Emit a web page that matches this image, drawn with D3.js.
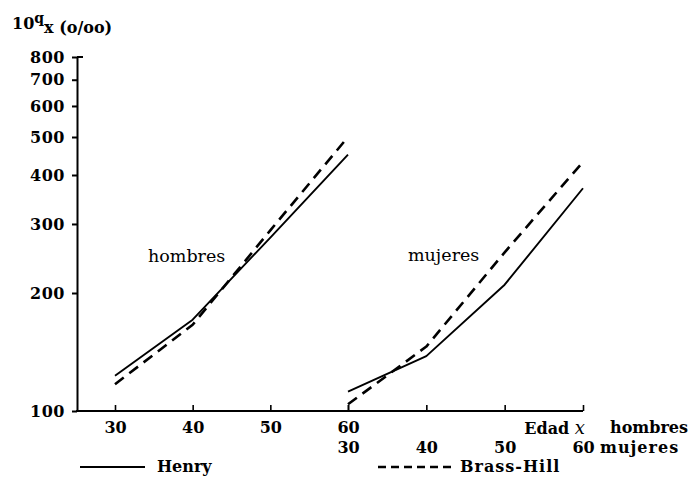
<!DOCTYPE html>
<html>
<head>
<meta charset="utf-8">
<script src="https://cdn.jsdelivr.net/npm/d3@7"></script>
<style>
  html, body { margin: 0; padding: 0; background: #fff; }
  svg { display: block; }
  text { font-family: "DejaVu Serif", serif; fill: #000; }
</style>
</head>
<body>
<svg id="chart" width="694" height="479"></svg>
<script>
// Ages (x) and 10qx mortality probabilities per thousand
const ages = [30, 40, 50, 60];
const hombresHenry = [123, 171, 277, 451];
const hombresBrassHill = [117, 166, 289, 500];
const mujeresHenry = [112, 138, 210, 370];
const mujeresBrassHill = [104, 146, 254, 432];
const yTicks = [100, 200, 300, 400, 500, 600, 700, 800];
const ageTicks = [30, 40, 50, 60];

const svg = d3.select("#chart");

// Two age axes share the baseline: men to the left, women to the right
const xH = d3.scaleLinear().domain([30, 60]).range([115, 348]);
const xM = d3.scaleLinear().domain([30, 60]).range([348, 583]);
const y = d3.scaleLog().domain([100, 800]).range([411, 57]);

// Y axis (log scale)
const yAxis = svg.append("g")
  .attr("transform", "translate(77,0)")
  .call(d3.axisLeft(y).tickValues(yTicks).tickSize(5).tickSizeOuter(0)
    .tickPadding(7).tickFormat(d3.format("d")));
yAxis.select(".domain").attr("stroke-width", 2);
yAxis.selectAll(".tick line").attr("stroke-width", 2);
yAxis.selectAll(".tick text")
  .attr("font-size", 16).attr("font-weight", "bold")
  .attr("letter-spacing", 0.5)
  .attr("font-family", "DejaVu Serif, serif");
// short cap at the top of the axis
svg.append("line")
  .attr("x1", 77).attr("x2", 83).attr("y1", y(800)).attr("y2", y(800))
  .attr("stroke", "#000").attr("stroke-width", 2);

// Baseline across both age ranges
svg.append("line")
  .attr("x1", 76).attr("x2", xM(60))
  .attr("y1", y(100)).attr("y2", y(100))
  .attr("stroke", "#000").attr("stroke-width", 2);

function ageAxis(scale, pad) {
  const g = svg.append("g")
    .attr("transform", `translate(0,${y(100)})`)
    .call(d3.axisBottom(scale).tickValues(ageTicks).tickSize(-6)
      .tickSizeOuter(0).tickPadding(pad).tickFormat(d3.format("d")));
  g.select(".domain").remove();
  g.selectAll(".tick line").attr("stroke-width", 1.6);
  g.selectAll(".tick text")
    .attr("font-size", 16).attr("font-weight", "bold")
    .attr("font-family", "DejaVu Serif, serif");
  return g;
}
ageAxis(xH, 10.5);
ageAxis(xM, 30.5);

// Series lines
const lineH = d3.line().x((d, i) => xH(ages[i])).y(d => y(d));
const lineM = d3.line().x((d, i) => xM(ages[i])).y(d => y(d));

const series = [
  { gen: lineH, values: hombresHenry, dashed: false },
  { gen: lineH, values: hombresBrassHill, dashed: true },
  { gen: lineM, values: mujeresHenry, dashed: false },
  { gen: lineM, values: mujeresBrassHill, dashed: true }
];
series.forEach(s => {
  svg.append("path")
    .attr("d", s.gen(s.values))
    .attr("fill", "none")
    .attr("stroke", "#000")
    .attr("stroke-width", s.dashed ? 2.6 : 1.9)
    .attr("stroke-dasharray", s.dashed ? "11,7" : null)
    .attr("stroke-linejoin", "round");
});

// Group labels inside the plot
svg.append("text").attr("x", 148).attr("y", 262)
  .attr("font-size", 17.5).text("hombres");
svg.append("text").attr("x", 408).attr("y", 261)
  .attr("font-size", 17.5).text("mujeres");

// Y axis title: 10qx (o/oo)
const title = svg.append("text").attr("x", 12).attr("y", 29)
  .attr("font-size", 16).attr("font-weight", "bold");
title.append("tspan").text("10");
title.append("tspan").attr("dy", -6).attr("font-size", 14).text("q");
title.append("tspan").attr("dy", 10).text("x (o/oo)");

// Age axis captions
const cap = svg.append("text").attr("x", 585).attr("y", 434)
  .attr("text-anchor", "end").attr("font-size", 16).attr("font-weight", "bold");
cap.append("tspan").text("Edad ");
cap.append("tspan").attr("font-style", "italic").attr("font-weight", "normal")
  .attr("font-size", 18).text("x");
svg.append("text").attr("x", 610).attr("y", 433)
  .attr("font-size", 16).attr("font-weight", "bold").text("hombres");
svg.append("text").attr("x", 600).attr("y", 453)
  .attr("font-size", 16).attr("font-weight", "bold")
  .attr("letter-spacing", 1).text("mujeres");

// Legend
svg.append("line").attr("x1", 80).attr("x2", 145).attr("y1", 467).attr("y2", 467)
  .attr("stroke", "#000").attr("stroke-width", 1.9);
svg.append("text").attr("x", 157).attr("y", 472)
  .attr("font-size", 16).attr("font-weight", "bold").text("Henry");
svg.append("line").attr("x1", 378).attr("x2", 455).attr("y1", 467).attr("y2", 467)
  .attr("stroke", "#000").attr("stroke-width", 2.4).attr("stroke-dasharray", "8,5");
svg.append("text").attr("x", 460).attr("y", 472)
  .attr("font-size", 16).attr("font-weight", "bold")
  .attr("letter-spacing", 1).text("Brass-Hill");
</script>
</body>
</html>
